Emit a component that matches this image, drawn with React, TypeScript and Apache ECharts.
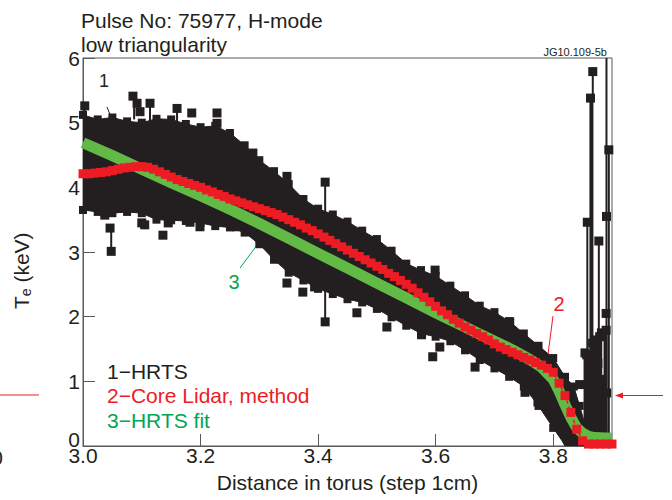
import { useEffect, useRef } from "react";
import * as echarts from "echarts";

// ---------- data ----------
const X_MIN = 3.0;
const X_MAX = 3.9;
const X_INTERVAL = 0.2;
const Y_MIN = 0;
const Y_MAX = 6;
const Y_INTERVAL = 1;

// HRTS cloud: upper and lower envelope of the many overlaid profiles
const hrtsUpperX = [3.0, 3.025, 3.05, 3.075, 3.1, 3.125, 3.15, 3.175, 3.2, 3.225, 3.25, 3.275, 3.3, 3.325, 3.35, 3.375, 3.4, 3.425, 3.45, 3.475, 3.5, 3.525, 3.55, 3.575, 3.6, 3.625, 3.65, 3.675, 3.7, 3.725, 3.75, 3.775, 3.8, 3.82, 3.835, 3.845, 3.855, 3.86];
const hrtsUpperY = [5.12, 5.05, 5.08, 5.02, 5.0, 5.06, 5.05, 4.98, 4.93, 4.95, 4.84, 4.65, 4.42, 4.25, 4.05, 3.82, 3.67, 3.58, 3.47, 3.33, 3.2, 3.02, 2.82, 2.72, 2.63, 2.48, 2.33, 2.17, 2.07, 1.93, 1.74, 1.55, 1.36, 1.07, 0.92, 0.62, 0.3, 0.0];
const hrtsLowerX = [3.0, 3.025, 3.05, 3.075, 3.1, 3.125, 3.15, 3.175, 3.2, 3.225, 3.25, 3.275, 3.3, 3.325, 3.35, 3.375, 3.4, 3.425, 3.45, 3.475, 3.5, 3.525, 3.55, 3.575, 3.6, 3.625, 3.65, 3.675, 3.7, 3.725, 3.75, 3.775, 3.8, 3.815, 3.82];
const hrtsLowerY = [3.65, 3.62, 3.6, 3.62, 3.6, 3.5, 3.49, 3.48, 3.45, 3.4, 3.38, 3.3, 3.12, 2.88, 2.68, 2.56, 2.43, 2.35, 2.27, 2.22, 2.12, 1.99, 1.86, 1.74, 1.69, 1.62, 1.48, 1.33, 1.2, 1.07, 0.92, 0.62, 0.28, 0.08, 0.0];

// HRTS single points standing out of the cloud
const hrtsOutX = [3.003, 3.085, 3.092, 3.114, 3.097, 3.16, 3.185, 3.228, 3.228, 3.289, 3.037, 3.046, 3.048, 3.1, 3.105, 3.136, 3.145, 3.182, 3.199, 3.228, 3.262, 3.347, 3.412, 3.398, 3.366, 3.412, 3.347, 3.374, 3.394, 3.466, 3.517, 3.576, 3.599, 3.595, 3.607, 3.667, 3.752, 3.726, 3.774, 3.8673, 3.8634, 3.858, 3.8776, 3.8906, 3.8946, 3.89, 3.854, 3.867, 3.866, 3.879, 3.876, 3.884, 3.871, 3.862, 3.879, 3.891, 3.884, 3.867, 3.857, 3.871, 3.882, 3.89, 3.845];
const hrtsOutY = [5.26, 5.41, 5.3, 5.3, 5.17, 5.22, 5.15, 5.15, 4.99, 4.53, 3.57, 3.37, 3.01, 3.45, 3.42, 3.26, 3.45, 3.46, 3.39, 3.46, 3.39, 4.17, 4.08, 3.63, 3.8, 1.92, 2.52, 2.38, 2.46, 2.06, 1.84, 1.72, 2.72, 1.38, 1.53, 1.22, 0.83, 1.92, 0.68, 5.79, 5.38, 3.46, 3.17, 3.55, 4.58, 2.05, 1.44, 1.59, 1.33, 1.69, 1.28, 1.02, 0.91, 0.71, 0.6, 0.82, 0.3, 0.2, 1.41, 1.64, 1.75, 1.79, 0.95];

// thin lines joining points of one profile
const hrtsStemX = [3.003, 3.087, 3.114, 3.16, 3.289, 3.048, 3.412, 3.412, 3.8673, 3.8776, 3.8906, 3.8946, 3.858];
const hrtsStemFrom = [5.26, 5.41, 5.3, 5.22, 4.53, 3.01, 4.08, 1.92, 5.79, 3.17, 6.0, 4.58, 3.46];
const hrtsStemTo = [5.05, 5.05, 5.0, 5.0, 4.35, 3.37, 3.6, 2.46, 5.38, 0, 0, 0, 1.5];

// thick lines near the plasma edge
const edgeSpikeX = [3.865, 3.855, 3.86, 3.869, 3.874, 3.88, 3.885, 3.889];
const edgeSpikeFrom = [5.38, 1.45, 1.4, 1.7, 1.6, 1.75, 1.1, 1.8];
const edgeSpikeTo = [0, 0, 0, 0, 0, 0, 0, 0];

// Core LIDAR profile, one point per 1 cm from 3.00 m
const lidarStart = 3.0;
const lidarStep = 0.01;
const lidarTe = [
  4.21, 4.21, 4.22, 4.23, 4.24, 4.26, 4.28, 4.3, 4.31, 4.32,
  4.32, 4.31, 4.28, 4.24, 4.2, 4.16, 4.12, 4.09, 4.06, 4.03,
  4.0, 3.96, 3.93, 3.89, 3.86, 3.82, 3.79, 3.76, 3.73, 3.7,
  3.67, 3.64, 3.61, 3.58, 3.54, 3.5, 3.46, 3.42, 3.37, 3.33,
  3.28, 3.23, 3.18, 3.13, 3.08, 3.03, 2.98, 2.93, 2.88, 2.83,
  2.78, 2.73, 2.67, 2.62, 2.56, 2.5, 2.44, 2.37, 2.3, 2.23,
  2.16, 2.09, 2.03, 1.96, 1.9, 1.84, 1.79, 1.74, 1.69, 1.64,
  1.58, 1.53, 1.49, 1.45, 1.41, 1.37, 1.33, 1.29, 1.25, 1.2,
  1.14, 0.97, 0.78, 0.52, 0.26, 0.08, 0.03, 0.03, 0.03, 0.03,
  0.03,
];

// HRTS fit
const fitX = [3.0, 3.05, 3.1, 3.15, 3.2, 3.25, 3.3, 3.35, 3.4, 3.45, 3.5, 3.55, 3.6, 3.65, 3.7, 3.73, 3.76, 3.78, 3.8, 3.81, 3.82, 3.83, 3.84, 3.85, 3.86, 3.87, 3.9];
const fitTe = [4.69, 4.49, 4.28, 4.07, 3.87, 3.66, 3.44, 3.21, 2.98, 2.75, 2.52, 2.29, 2.06, 1.84, 1.62, 1.49, 1.34, 1.22, 1.03, 0.85, 0.64, 0.44, 0.28, 0.2, 0.15, 0.13, 0.12];

// ---------- styles ----------
const BLACK = "#231f20";
const RED = "#ed1c24";
const GREEN_BAND = "#62b946";
const GREEN_TEXT = "#00a651";
const AXIS = "#58595b";
const FONT = "'Liberation Sans', Arial, Helvetica, sans-serif";

export default function App() {
  const ref = useRef<HTMLDivElement>(null);

  useEffect(() => {
    if (!ref.current) return;
    const chart = echarts.init(ref.current, undefined, { renderer: "svg" });

    const lidarData = lidarTe.map((v, i) => [
      +(lidarStart + i * lidarStep).toFixed(2),
      v,
    ]);
    const fitData = fitX.map((x, i) => [x, fitTe[i]]);
    const outData = hrtsOutX.map((x, i) => [x, hrtsOutY[i]]);
    const edgeSquares = [
      ...hrtsUpperX.map((x, i) => [x, hrtsUpperY[i]]),
      ...hrtsLowerX.map((x, i) => [x, hrtsLowerY[i]]),
    ].filter((p) => p[1] > 0.25);
    const stemData = hrtsStemX.map((x, i) => [x, hrtsStemFrom[i], hrtsStemTo[i]]);
    const spikeData = edgeSpikeX.map((x, i) => [x, edgeSpikeFrom[i], edgeSpikeTo[i]]);

    const segRender = (width: number) => (params: any, api: any) => {
      const x = api.value(0);
      const p1 = api.coord([x, api.value(1)]);
      const p2 = api.coord([x, api.value(2)]);
      return {
        type: "line",
        shape: { x1: p1[0], y1: p1[1], x2: p2[0], y2: p2[1] },
        style: { stroke: BLACK, lineWidth: width },
      };
    };

    const option: any = {
      animation: false,
      textStyle: { fontFamily: FONT },
      grid: {
        left: 83,
        right: 60,
        top: 58,
        bottom: 54,
        outerBoundsMode: "none",
        containLabel: false,
        show: true,
        borderColor: AXIS,
        borderWidth: 1,
      },
      xAxis: {
        type: "value",
        min: X_MIN,
        max: X_MAX,
        interval: X_INTERVAL,
        name: "Distance in torus (step 1cm)",
        nameLocation: "middle",
        nameGap: 26,
        nameTextStyle: { fontSize: 21, color: BLACK, fontFamily: FONT },
        axisLine: { show: true, lineStyle: { color: AXIS, width: 1 } },
        axisTick: { show: true, inside: true, length: 12, lineStyle: { color: AXIS } },
        axisLabel: {
          fontSize: 21,
          color: BLACK,
          margin: -1,
          fontFamily: FONT,
          showMaxLabel: false,
          formatter: (v: number) => v.toFixed(1),
        },
        splitLine: { show: false },
      },
      yAxis: {
        type: "value",
        min: Y_MIN,
        max: Y_MAX,
        interval: Y_INTERVAL,
        axisLine: { show: true, lineStyle: { color: AXIS, width: 1 } },
        axisTick: { show: true, inside: true, length: 12, lineStyle: { color: AXIS } },
        axisLabel: {
          fontSize: 21,
          color: BLACK,
          margin: 3,
          fontFamily: FONT,
          formatter: (v: number) => (v === 0 ? "{z|0}" : String(v)),
          rich: { z: { fontSize: 21, color: BLACK, fontFamily: FONT, padding: [0, 0, 14, 0] } },
        },
        splitLine: { show: false },
      },
      series: [
        {
          type: "custom",
          name: "HRTS cloud",
          clip: true,
          data: [[X_MIN, 0]],
          renderItem: (params: any, api: any) => {
            const pts: number[][] = [];
            for (let i = 0; i < hrtsUpperX.length; i++)
              pts.push(api.coord([hrtsUpperX[i], hrtsUpperY[i]]));
            for (let i = hrtsLowerX.length - 1; i >= 0; i--)
              pts.push(api.coord([hrtsLowerX[i], hrtsLowerY[i]]));
            return {
              type: "polygon",
              shape: { points: pts },
              style: { fill: BLACK, stroke: BLACK, lineWidth: 1 },
            };
          },
        },
        {
          type: "custom",
          name: "HRTS stems",
          clip: true,
          data: stemData,
          encode: { x: 0, y: [1, 2] },
          renderItem: segRender(2),
        },
        {
          type: "custom",
          name: "HRTS edge",
          clip: true,
          data: spikeData,
          encode: { x: 0, y: [1, 2] },
          renderItem: segRender(4),
        },
        {
          type: "scatter",
          name: "HRTS edge squares",
          symbol: "rect",
          symbolSize: 8,
          itemStyle: { color: BLACK, opacity: 1 },
          data: edgeSquares,
        },
        {
          type: "scatter",
          name: "HRTS points",
          symbol: "rect",
          symbolSize: 9,
          itemStyle: { color: BLACK, opacity: 1 },
          data: outData,
        },
        {
          type: "line",
          name: "HRTS fit",
          data: fitData,
          showSymbol: false,
          symbol: "none",
          lineStyle: { color: GREEN_BAND, width: 11, cap: "butt", join: "round" },
        },
        {
          type: "line",
          name: "Core Lidar",
          data: lidarData,
          symbol: "rect",
          symbolSize: 9,
          showSymbol: true,
          itemStyle: { color: RED, opacity: 1 },
          lineStyle: { color: RED, width: 1.5, type: [4, 3] },
        },
      ],
      graphic: [
        {
          type: "text",
          x: 81,
          y: 20,
          style: { text: "Pulse No: 75977, H-mode", font: `21px ${FONT}`, fill: BLACK, verticalAlign: "middle" },
        },
        {
          type: "text",
          x: 81,
          y: 44,
          style: { text: "low triangularity", font: `21px ${FONT}`, fill: BLACK, verticalAlign: "middle" },
        },
        {
          type: "text",
          x: 607,
          y: 52,
          style: { text: "JG10.109-5b", font: `11px ${FONT}`, fill: BLACK, align: "right", verticalAlign: "middle" },
        },
        {
          type: "group",
          x: 21,
          y: 270,
          rotation: Math.PI / 2,
          children: [
            { type: "text", x: -39, y: 0, style: { text: "T", font: `21px ${FONT}`, fill: BLACK, verticalAlign: "middle" } },
            { type: "text", x: -26.2, y: 5, style: { text: "e", font: `14px ${FONT}`, fill: BLACK, verticalAlign: "middle" } },
            { type: "text", x: -18.4, y: 0, style: { text: " (keV)", font: `21px ${FONT}`, fill: BLACK, verticalAlign: "middle" } },
          ],
        },
        {
          type: "text",
          x: 107,
          y: 371,
          style: { text: "1\u2212HRTS", font: `21px ${FONT}`, fill: BLACK, verticalAlign: "middle" },
        },
        {
          type: "text",
          x: 107,
          y: 395,
          style: { text: "2\u2212Core Lidar, method", font: `21px ${FONT}`, fill: RED, verticalAlign: "middle" },
        },
        {
          type: "text",
          x: 107,
          y: 420,
          style: { text: "3\u2212HRTS fit", font: `21px ${FONT}`, fill: GREEN_TEXT, verticalAlign: "middle" },
        },
        // annotation 1
        {
          type: "text",
          x: 104,
          y: 81,
          style: { text: "1", font: `18px ${FONT}`, fill: BLACK, align: "center", verticalAlign: "middle" },
        },
        { type: "line", shape: { x1: 107, y1: 107, x2: 111, y2: 117 }, style: { stroke: BLACK, lineWidth: 1 } },
        // annotation 2
        {
          type: "text",
          x: 559,
          y: 304,
          style: { text: "2", font: `20px ${FONT}`, fill: RED, align: "center", verticalAlign: "middle" },
        },
        { type: "line", shape: { x1: 553, y1: 316, x2: 547, y2: 362 }, style: { stroke: RED, lineWidth: 1 } },
        // annotation 3
        {
          type: "text",
          x: 234,
          y: 282,
          style: { text: "3", font: `20px ${FONT}`, fill: GREEN_TEXT, align: "center", verticalAlign: "middle" },
        },
        { type: "line", shape: { x1: 240, y1: 268, x2: 266, y2: 233 }, style: { stroke: GREEN_TEXT, lineWidth: 1 } },
        { type: "polygon", shape: { points: [[269, 229], [262.5, 233], [267, 236]] }, style: { fill: GREEN_TEXT } },
        // left red marker line
        { type: "line", shape: { x1: 0, y1: 395, x2: 39, y2: 395 }, style: { stroke: RED, lineWidth: 1 } },
        // right red arrow
        { type: "line", shape: { x1: 620, y1: 395.5, x2: 663, y2: 395.5 }, style: { stroke: RED, lineWidth: 1 } },
        { type: "polygon", shape: { points: [[615, 395.5], [623, 392.5], [623, 398.5]] }, style: { fill: RED } },
        // clipped label from neighbouring panel
        {
          type: "text",
          x: 3,
          y: 457,
          style: { text: "0", font: `21px ${FONT}`, fill: BLACK, align: "right", verticalAlign: "middle" },
        },
      ],
    };

    chart.setOption(option);
    return () => chart.dispose();
  }, []);

  return <div ref={ref} style={{ width: 672, height: 500, position: "absolute", left: 0, top: 0 }} />;
}
